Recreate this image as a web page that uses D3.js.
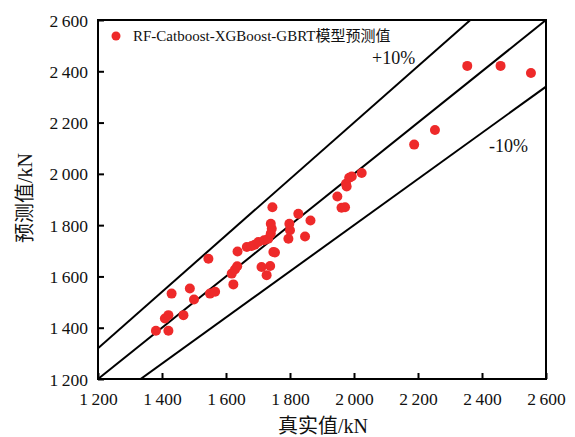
<!DOCTYPE html>
<html lang="zh">
<head>
<meta charset="UTF-8">
<title>RF-Catboost-XGBoost-GBRT</title>
<script src="https://d3js.org/d3.v7.min.js"></script>
<style>
  body { margin: 0; background: #fff; }
  svg text { font-family: "Liberation Serif", "Noto Sans CJK SC", serif; fill: #111; }
</style>
</head>
<body>
<div id="chart"></div>
<script>
// measured (x) vs predicted (y), kN
const actual = [1381, 1420, 1409, 1420, 1430, 1467, 1487, 1500, 1545, 1550, 1566,
  1618, 1623, 1628, 1635, 1636, 1665, 1680, 1690, 1701, 1719, 1711, 1738, 1727,
  1732, 1740, 1743, 1740, 1745, 1748, 1753, 1795, 1800, 1798, 1826, 1847, 1864,
  1948, 1961, 1972, 1975, 1977, 1985, 1993, 2024, 2188, 2253, 2354, 2458, 2553];
const predicted = [1388, 1388, 1436, 1449, 1533, 1449, 1553, 1510, 1669, 1533, 1540,
  1611, 1569, 1627, 1640, 1697, 1715, 1719, 1724, 1734, 1741, 1637, 1641, 1605,
  1747, 1767, 1786, 1805, 1870, 1695, 1693, 1747, 1780, 1805, 1844, 1756, 1818,
  1912, 1868, 1870, 1961, 1951, 1985, 1990, 2003, 2114, 2171, 2421, 2421, 2393];
const ticks = [1200, 1400, 1600, 1800, 2000, 2200, 2400, 2600];
const bands = [
  { k: 1.1, label: "+10%" },
  { k: 1.0, label: null },
  { k: 0.9, label: "-10%" }
];
const seriesName = "RF-Catboost-XGBoost-GBRT模型预测值";

const W = 575, H = 437;
const m = { left: 98, right: 29, top: 20, bottom: 58 };

const svg = d3.select('#chart').append('svg').attr('width', W).attr('height', H);

const x = d3.scaleLinear().domain([1200, 2600]).range([m.left, W - m.right]);
const y = d3.scaleLinear().domain([1200, 2600]).range([H - m.bottom, m.top]);
const fmt = d => d3.format(',')(d).replace(',', '\u2009');

svg.append('clipPath').attr('id', 'plot')
  .append('rect').attr('x', m.left).attr('y', m.top)
  .attr('width', W - m.left - m.right).attr('height', H - m.top - m.bottom);

// reference lines
const lineG = svg.append('g').attr('clip-path', 'url(#plot)');
bands.forEach(b => {
  lineG.append('line')
    .attr('x1', x(1200)).attr('y1', y(1200 * b.k))
    .attr('x2', x(2600)).attr('y2', y(2600 * b.k))
    .attr('stroke', '#000').attr('stroke-width', 2);
});

// points
svg.append('g').attr('clip-path', 'url(#plot)')
  .selectAll('circle').data(actual).join('circle')
  .attr('cx', d => x(d)).attr('cy', (d, i) => y(predicted[i]))
  .attr('r', 5).attr('fill', '#ee2a2a');

// frame
svg.append('rect').attr('x', m.left).attr('y', m.top)
  .attr('width', W - m.left - m.right).attr('height', H - m.top - m.bottom)
  .attr('fill', 'none').attr('stroke', '#000').attr('stroke-width', 2);

// axes (ticks inside)
const xAx = svg.append('g').attr('transform', `translate(0,${H - m.bottom})`)
  .call(d3.axisBottom(x).tickValues(ticks).tickSize(-6).tickPadding(14).tickFormat(fmt));
const yAx = svg.append('g').attr('transform', `translate(${m.left},0)`)
  .call(d3.axisLeft(y).tickValues(ticks).tickSize(-6).tickPadding(10).tickFormat(fmt));
[xAx, yAx].forEach(a => {
  a.select('.domain').remove();
  a.selectAll('.tick line').attr('stroke', '#000').attr('stroke-width', 2);
  a.selectAll('.tick text').attr('font-size', 17.5).attr('font-family', '"Liberation Serif", serif');
});
yAx.selectAll('.tick text').attr('dy', '0.35em');

// band labels
svg.append('text').attr('x', 372).attr('y', 64).attr('font-size', 18).text(bands[0].label);
svg.append('text').attr('x', 489).attr('y', 152).attr('font-size', 18).text(bands[2].label);

// legend
svg.append('circle').attr('cx', 116).attr('cy', 36).attr('r', 4.5).attr('fill', '#ee2a2a');
svg.append('text').attr('x', 133).attr('y', 41).attr('font-size', 15).text(seriesName);

// axis titles
svg.append('text').attr('x', 323).attr('y', 433).attr('text-anchor', 'middle')
  .attr('font-size', 20).text('真实值/kN');
svg.append('text').attr('transform', 'translate(32,198) rotate(-90)').attr('text-anchor', 'middle')
  .attr('font-size', 20).text('预测值/kN');
</script>
</body>
</html>
